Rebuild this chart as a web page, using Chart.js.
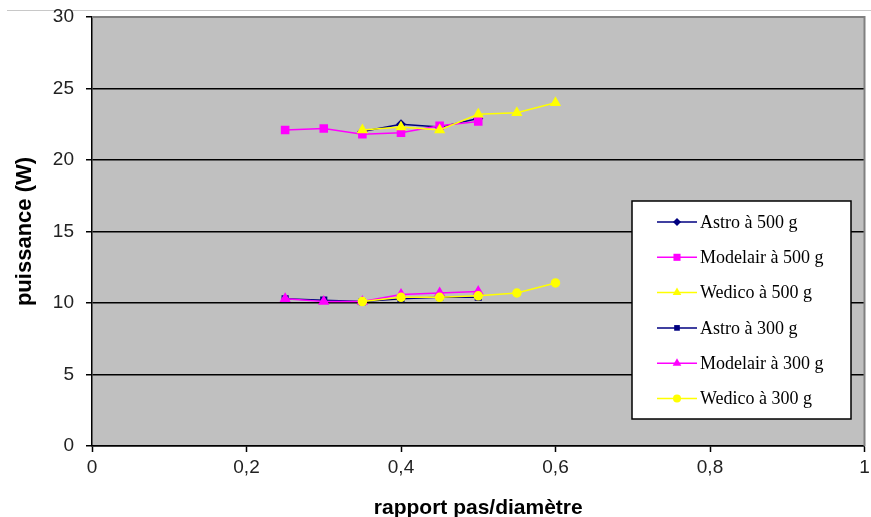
<!DOCTYPE html>
<html>
<head>
<meta charset="utf-8">
<script src="https://cdn.jsdelivr.net/npm/chart.js@4.4.1/dist/chart.umd.min.js"></script>
<style>
  html, body { margin: 0; padding: 0; background: #fff; }
  #wrap { width: 871px; height: 517px; position: relative; }
</style>
</head>
<body>
<div id="wrap"><canvas id="chart" width="871" height="517"></canvas></div>
<script>
// rapport pas/diamètre
const xAstro = [0.35, 0.4, 0.45, 0.5];
const xModelair = [0.25, 0.3, 0.35, 0.4, 0.45, 0.5];
const xWedico = [0.35, 0.4, 0.45, 0.5, 0.55, 0.6];
const xAstro300 = [0.25, 0.3, 0.35, 0.4, 0.45, 0.5];

// puissance (W)
const astro500 = [22.0, 22.5, 22.3, 22.9];
const modelair500 = [22.1, 22.2, 21.8, 21.9, 22.4, 22.7];
const wedico500 = [22.1, 22.3, 22.1, 23.2, 23.3, 24.0];
const astro300 = [10.3, 10.2, 10.1, 10.3, 10.4, 10.4];
const modelair300 = [10.3, 10.1, 10.1, 10.6, 10.7, 10.8];
const wedico300 = [10.1, 10.4, 10.4, 10.5, 10.7, 11.4];

const xTicks = [0, 0.2, 0.4, 0.6, 0.8, 1];
const yTicks = [0, 5, 10, 15, 20, 25, 30];

const NAVY = '#000080', MAGENTA = '#FF00FF', YELLOW = '#FFFF00';

function pts(xs, ys) { return xs.map((x, i) => ({ x, y: ys[i] })); }

// excel draws the last series on top; chart.js draws low "order" on top
function series(label, xs, ys, color, marker, r, idx) {
  return {
    label, data: pts(xs, ys), borderColor: color, backgroundColor: color,
    borderWidth: 1.5, pointStyle: marker, pointRadius: r, pointHoverRadius: r,
    showLine: true, tension: 0, order: 10 - idx
  };
}

const datasets = [
  series('Astro à 500 g', xAstro, astro500, NAVY, 'rectRot', 4, 0),
  series('Modelair à 500 g', xModelair, modelair500, MAGENTA, 'rect', 5, 1),
  series('Wedico à 500 g', xWedico, wedico500, YELLOW, 'triangle', 5, 2),
  series('Astro à 300 g', xAstro300, astro300, NAVY, 'rect', 4, 3),
  series('Modelair à 300 g', xModelair, modelair300, MAGENTA, 'triangle', 5, 4),
  series('Wedico à 300 g', xWedico, wedico300, YELLOW, 'circle', 4, 5)
];

// gray plot area + thin frame line at the very top
const plotBg = {
  id: 'plotBg',
  beforeDraw(chart) {
    const { ctx, chartArea: a } = chart;
    ctx.save();
    ctx.fillStyle = '#C0C0C0';
    ctx.fillRect(a.left, a.top, a.right - a.left, a.bottom - a.top);
    ctx.strokeStyle = '#C8C8C8';
    ctx.lineWidth = 1;
    ctx.beginPath();
    ctx.moveTo(7, 10.5);
    ctx.lineTo(871, 10.5);
    ctx.stroke();
    ctx.restore();
  },
  afterDatasetsDraw(chart) {
    const { ctx, chartArea: a } = chart;
    ctx.save();
    ctx.strokeStyle = '#808080';
    ctx.lineWidth = 2;
    ctx.beginPath();
    ctx.moveTo(a.left, a.top);
    ctx.lineTo(a.right, a.top);
    ctx.lineTo(a.right, a.bottom);
    ctx.stroke();
    ctx.restore();
  }
};

// legend box inside the plot, like the original
const boxLegend = {
  id: 'boxLegend',
  afterDraw(chart) {
    const ctx = chart.ctx;
    const bx = 632, by = 201, bw = 219, bh = 218;
    ctx.save();
    ctx.fillStyle = '#fff';
    ctx.fillRect(bx, by, bw, bh);
    ctx.strokeStyle = '#000';
    ctx.lineWidth = 1.5;
    ctx.strokeRect(bx, by, bw, bh);
    ctx.font = '18px "Liberation Serif", "Times New Roman", serif';
    ctx.textBaseline = 'middle';
    chart.data.datasets.forEach((ds, i) => {
      const y = by + 21 + i * 35.3;
      ctx.strokeStyle = ds.borderColor;
      ctx.lineWidth = 1.5;
      ctx.beginPath();
      ctx.moveTo(657, y);
      ctx.lineTo(697, y);
      ctx.stroke();
      ctx.fillStyle = ds.backgroundColor;
      Chart.helpers.drawPoint(ctx, { pointStyle: ds.pointStyle, radius: ds.pointRadius, rotation: 0, borderWidth: 0 }, 677, y);
      ctx.fillStyle = '#000';
      ctx.fillText(ds.label, 700, y + 1);
    });
    ctx.restore();
  }
};

new Chart(document.getElementById('chart'), {
  type: 'scatter',
  data: { datasets },
  options: {
    responsive: false,
    animation: false,
    layout: { padding: { top: 17, right: 3, left: 0, bottom: 0 } },
    plugins: { legend: { display: false }, tooltip: { enabled: false } },
    scales: {
      x: {
        type: 'linear', min: 0, max: 1,
        afterBuildTicks: s => { s.ticks = xTicks.map(v => ({ value: v })); },
        afterFit: s => { s.height = 71; s.paddingLeft = 0; s.paddingRight = 0; },
        ticks: {
          color: '#222', font: { family: 'Liberation Sans, Arial', size: 19 }, padding: 4,
          callback: v => String(v).replace('.', ',')
        },
        grid: { drawOnChartArea: false, color: '#000', tickLength: 6, tickWidth: 1.5 },
        border: { color: '#000', width: 1.5 },
        title: {
          display: true, text: 'rapport pas/diamètre', color: '#000',
          font: { family: 'Liberation Sans, Arial', size: 21, weight: 'bold' }, padding: { top: 4, bottom: -4 }
        }
      },
      y: {
        type: 'linear', min: 0, max: 30,
        afterBuildTicks: s => { s.ticks = yTicks.map(v => ({ value: v })); },
        afterFit: s => { s.width = 92; s.paddingTop = 0; s.paddingBottom = 0; },
        ticks: { color: '#222', font: { family: 'Liberation Sans, Arial', size: 19 }, padding: 12 },
        grid: { color: '#000', lineWidth: 1.5, tickLength: 6, tickColor: '#000' },
        border: { color: '#000', width: 1.5 },
        title: {
          display: true, text: 'puissance (W)', color: '#000',
          font: { family: 'Liberation Sans, Arial', size: 22, weight: 'bold' }, padding: { top: 12 }
        }
      }
    }
  },
  plugins: [plotBg, boxLegend]
});
</script>
</body>
</html>
